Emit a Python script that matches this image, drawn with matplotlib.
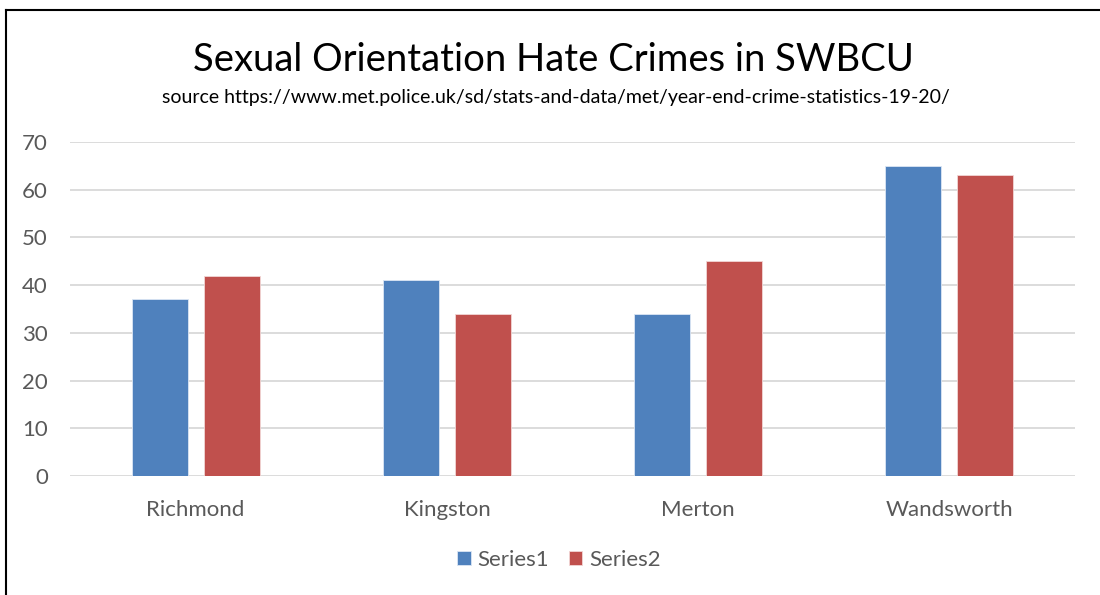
import numpy as np
import matplotlib
matplotlib.use('Agg')
import matplotlib.pyplot as plt
from matplotlib.lines import Line2D

# borough totals for the two periods
boroughs = ['Richmond', 'Kingston', 'Merton', 'Wandsworth']
series1 = [37, 41, 34, 65]
series2 = [42, 34, 45, 63]
y_ticks = [0, 10, 20, 30, 40, 50, 60, 70]

plt.rcParams['font.family'] = ['Lato', 'DejaVu Sans']

fig = plt.figure(figsize=(11, 5.95), dpi=100)
ax = fig.add_axes([70/1100, 1 - 476/595, 1005/1100, (476 - 142)/595])

x = np.arange(len(boroughs))
w = 0.223
off = 0.143
ax.bar(x - off, series1, w, color='#4F81BD', edgecolor='#dbe6f4', linewidth=0.6, label='Series1', zorder=3)
ax.bar(x + off, series2, w, color='#C0504D', edgecolor='#f2d6d5', linewidth=0.6, label='Series2', zorder=3)

ax.set_xlim(-0.5, len(boroughs) - 0.5)
ax.set_ylim(0, 70)
ax.set_yticks(y_ticks)
ax.set_xticks(x)
ax.set_xticklabels(boroughs)
ax.tick_params(axis='both', length=0, labelsize=16, labelcolor='#595959')
ax.tick_params(axis='x', pad=17)
ax.tick_params(axis='y', pad=16)
ax.grid(axis='y', color='#d9d9d9', linewidth=1.3, zorder=0)
for s in ax.spines.values():
    s.set_visible(False)

fig.text(0.503, 1 - 60/595, 'Sexual Orientation Hate Crimes in SWBCU', ha='center', va='center',
         fontsize=27.5, color='black')
fig.text(0.505, 1 - 98/595,
         'source https://www.met.police.uk/sd/stats-and-data/met/year-end-crime-statistics-19-20/',
         ha='center', va='center', fontsize=14, color='black')

fig.legend(loc='center', bbox_to_anchor=(0.508, 1 - 560/595), ncol=2, frameon=False,
           fontsize=16, labelcolor='#595959', handlelength=0.6, handleheight=0.6,
           handletextpad=0.3, columnspacing=0.9)

# frame lines on the left and top edges
fig.add_artist(Line2D([6/1100, 6/1100], [0, 1 - 10/595], color='black', linewidth=1.5))
fig.add_artist(Line2D([6/1100, 1], [1 - 10/595, 1 - 10/595], color='black', linewidth=1.5))

fig.savefig('out.png', dpi=100)
